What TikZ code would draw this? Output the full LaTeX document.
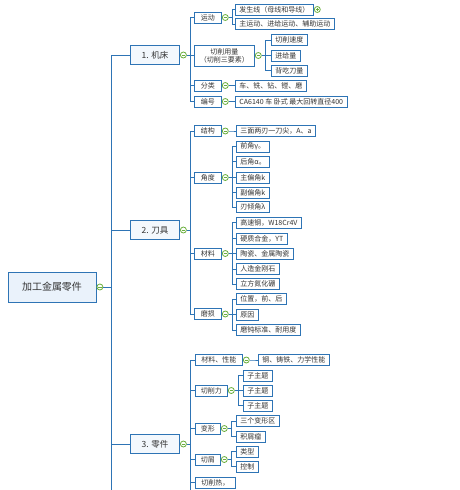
\documentclass[tikz,border=0pt]{standalone}
\usepackage{fontspec}
\setmainfont{Noto Sans CJK SC}
\usepackage{tikz}
\usetikzlibrary{positioning}
\definecolor{lineblue}{HTML}{2E74B5}
\definecolor{rootfill}{HTML}{EAF2FB}
\definecolor{topicfill}{HTML}{F3F8FD}
\definecolor{toggreen}{HTML}{6BAF3C}
\definecolor{txt}{HTML}{333333}
\tikzset{
    root/.style = {rectangle, draw=lineblue, fill=rootfill, line width=1pt,
                   minimum width=88, minimum height=30, font=\fontsize{10}{11}\selectfont},
    topic/.style = {rectangle, draw=lineblue, fill=topicfill, line width=1pt,
                    minimum width=49, minimum height=19, font=\fontsize{8.5}{9.5}\selectfont},
    sub/.style = {rectangle, draw=lineblue, fill=white, line width=0.9pt, anchor=west,
                  inner xsep=4pt, inner ysep=1pt, minimum height=11,
                  font=\fontsize{7}{8}\selectfont},
    tog/.style = {circle, draw=toggreen, fill=white, line width=0.8pt, minimum size=6,
                  inner sep=0pt, path picture={
                  \draw[toggreen, line width=0.7pt] ([xshift=-1.6]path picture bounding box.center)
                       -- ([xshift=1.6]path picture bounding box.center);}},
    togplus/.style = {tog, path picture={
                  \draw[toggreen, line width=0.7pt] ([xshift=-1.6]path picture bounding box.center)
                       -- ([xshift=1.6]path picture bounding box.center)
                       ([yshift=-1.6]path picture bounding box.center)
                       -- ([yshift=1.6]path picture bounding box.center);}},
    elbow/.style = {draw=lineblue, line width=0.9pt,
                    to path={(\tikztostart.east) -- +(#1,0) |- (\tikztotarget.west)}},
    elbow/.default = 3.5,
    every edge/.style = {elbow}
    }

\begin{document}
\begin{tikzpicture}[x=1pt, y=-1pt, text=txt]
    \useasboundingbox (0,0) rectangle (459,490);

    % root
    \node[root] (0) at (52,287) {加工金属零件};
    \node[tog, right=0pt of 0] (t0) {};

    % 1. machine tool
    \node[topic] (1) at (155,55) {1. 机床};
    \node[tog, right=0pt of 1] (t1) {};
    \node[sub, minimum width=27] (11) at (194,17.5) {运动};
    \node[tog, right=0pt of 11] (t11) {};
    \node[sub, minimum width=60, align=center, minimum height=21,
          inner ysep=0pt] (12) at (194,55.5) {切削用量\\（切削三要素）};
    \node[tog, right=0pt of 12] (t12) {};
    \node[sub, minimum width=27] (13) at (194,85.5) {分类};
    \node[tog, right=0pt of 13] (t13) {};
    \node[sub, minimum width=27] (14) at (194,101.5) {编号};
    \node[tog, right=0pt of 14] (t14) {};

    \node[sub] (111) at (235,9.5) {发生线（母线和导线）};
    \node[togplus, right=0pt of 111] (t111) {};
    \node[sub] (112) at (235,24) {主运动、进给运动、辅助运动};
    \node[sub] (121) at (271,40) {切削速度};
    \node[sub] (122) at (271,55.5) {进给量};
    \node[sub] (123) at (271,70.5) {背吃刀量};
    \node[sub] (131) at (235,85.5) {车、铣、钻、镗、磨};
    \node[sub] (141) at (235,101.5) {CA6140 车 卧式 最大回转直径400};

    % 2. cutting tool
    \node[topic] (2) at (155,230) {2. 刀具};
    \node[tog, right=0pt of 2] (t2) {};
    \node[sub, minimum width=27] (21) at (194,131) {结构};
    \node[tog, right=0pt of 21] (t21) {};
    \node[sub, minimum width=27] (22) at (194,177.5) {角度};
    \node[tog, right=0pt of 22] (t22) {};
    \node[sub, minimum width=27] (23) at (194,253.5) {材料};
    \node[tog, right=0pt of 23] (t23) {};
    \node[sub, minimum width=27] (24) at (194,314) {磨损};
    \node[tog, right=0pt of 24] (t24) {};

    \node[sub] (211) at (236,131) {三面两刃一刀尖，A、a};
    \node[sub] (221) at (236,146.5) {前角γ。};
    \node[sub] (222) at (236,161.5) {后角α。};
    \node[sub] (223) at (236,177.5) {主偏角k};
    \node[sub] (224) at (236,192.5) {副偏角k};
    \node[sub] (225) at (236,207) {刃倾角λ};
    \node[sub] (231) at (236,222.5) {高速钢，W18Cr4V};
    \node[sub] (232) at (236,238.5) {硬质合金，YT};
    \node[sub] (233) at (236,253.5) {陶瓷、金属陶瓷};
    \node[sub] (234) at (236,269) {人造金刚石};
    \node[sub] (235) at (236,284) {立方氮化硼};
    \node[sub] (241) at (236,299) {位置，前、后};
    \node[sub] (242) at (236,314.5) {原因};
    \node[sub] (243) at (236,330) {磨钝标准、耐用度};

    % 3. workpiece
    \node[topic] (3) at (155,444) {3. 零件};
    \node[tog, right=0pt of 3] (t3) {};
    \node[sub, minimum width=47] (31) at (195,360) {材料、性能};
    \node[tog, right=0pt of 31] (t31) {};
    \node[sub, minimum width=32] (32) at (195,390.5) {切削力};
    \node[tog, right=0pt of 32] (t32) {};
    \node[sub, minimum width=25] (33) at (195,428.5) {变形};
    \node[tog, right=0pt of 33] (t33) {};
    \node[sub, minimum width=25] (34) at (195,459.5) {切屑};
    \node[tog, right=0pt of 34] (t34) {};
    \node[sub, minimum width=40] (35) at (195,482.5) {切削热，};

    \node[sub] (311) at (258,360) {钢、铸铁、力学性能};
    \node[sub] (321) at (243,375.5) {子主题};
    \node[sub] (322) at (243,390.5) {子主题};
    \node[sub] (323) at (243,405.5) {子主题};
    \node[sub] (331) at (236,421) {三个变形区};
    \node[sub] (332) at (236,436.5) {积屑瘤};
    \node[sub] (341) at (236,451.5) {类型};
    \node[sub] (342) at (236,466.5) {控制};

    % branches run on below the page
    \coordinate (e0) at (110,490);
    \coordinate (e3) at (190,490);

    \path (t0) edge[elbow=8] (1);
    \path (t0) edge[elbow=8] (2);
    \path (t0) edge[elbow=8] (3);
    \draw[draw=lineblue, line width=0.9pt] (t0.east) -- +(8,0) |- (e0);

    \path (t1) edge (11);
    \path (t1) edge (12);
    \path (t1) edge (13);
    \path (t1) edge (14);
    \path (t11) edge (111);
    \path (t11) edge (112);
    \path (t12) edge (121);
    \path (t12) edge (122);
    \path (t12) edge (123);
    \path (t13) edge (131);
    \path (t14) edge (141);

    \path (t2) edge (21);
    \path (t2) edge (22);
    \path (t2) edge (23);
    \path (t2) edge (24);
    \path (t21) edge (211);
    \path (t22) edge (221);
    \path (t22) edge (222);
    \path (t22) edge (223);
    \path (t22) edge (224);
    \path (t22) edge (225);
    \path (t23) edge (231);
    \path (t23) edge (232);
    \path (t23) edge (233);
    \path (t23) edge (234);
    \path (t23) edge (235);
    \path (t24) edge (241);
    \path (t24) edge (242);
    \path (t24) edge (243);

    \path (t3) edge (31);
    \path (t3) edge (32);
    \path (t3) edge (33);
    \path (t3) edge (34);
    \path (t3) edge (35);
    \draw[draw=lineblue, line width=0.9pt] (t3.east) -- +(3.5,0) |- (e3);
    \path (t31) edge (311);
    \path (t32) edge (321);
    \path (t32) edge (322);
    \path (t32) edge (323);
    \path (t33) edge (331);
    \path (t33) edge (332);
    \path (t34) edge (341);
    \path (t34) edge (342);
\end{tikzpicture}
\end{document}
